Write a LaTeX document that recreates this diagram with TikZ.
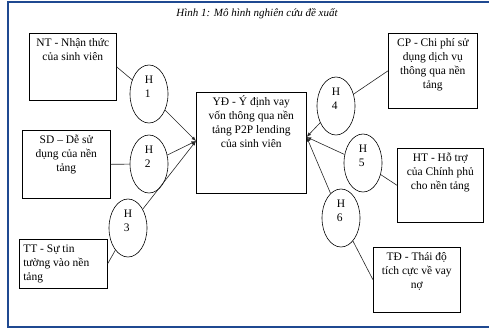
\documentclass[tikz,border=0pt]{standalone}
\usepackage{fontspec}
\setmainfont{Liberation Serif}
\usetikzlibrary{shapes.geometric}

\definecolor{frameblue}{RGB}{31,73,145}
\newcommand{\topbox}[3]{\parbox[c][#2][t]{#1}{\vspace*{3pt}\centering\strut #3}}

\begin{document}
\begin{tikzpicture}[x=1pt, y=-1pt, font=\fontsize{11.5}{14}\selectfont,
        box/.style={draw, line width=0.6pt, anchor=north west, inner xsep=4pt, inner ysep=0pt},
        hyp/.style={draw, ellipse, line width=0.6pt, minimum width=38pt, minimum height=58pt, inner sep=0pt, align=left, text depth=14pt},
        link/.style={draw=black!85, line width=0.6pt},
        arr/.style={-latex, draw=black!85, line width=0.6pt}]
            \useasboundingbox (0, 0) rectangle (489, 330);

            %frame and title
            \draw[frameblue, line width=2pt] (489, 2) -- (7.5, 2) -- (7.5, 327) -- (489, 327);
            \node[font=\fontsize{11}{13}\selectfont\itshape] (title) at (257, 14) {Hình 1: Mô hình nghiên cứu đề xuất};

            %factor boxes
            \node[box] (NT) at (29, 33) {\topbox{79pt}{67pt}{NT - Nhận thức\\của sinh viên}};
            \node[box] (SD) at (22, 130) {\topbox{80pt}{68pt}{SD – Dễ sử\\dụng của nền\\tảng}};
            \node[box] (TT) at (19, 239) {\topbox{80pt}{49pt}{\raggedright TT - Sự tin\\tường vào nền\\tảng}};
            \node[box] (YD) at (196, 92) {\topbox{102pt}{101pt}{YĐ - Ý định vay\\vốn thông qua nền\\tảng P2P lending\\của sinh viên}};
            \node[box] (CP) at (388, 33) {\topbox{81pt}{75pt}{CP - Chi phí sử\\dụng dịch vụ\\thông qua nền\\tảng}};
            \node[box] (HT) at (397, 148) {\topbox{78pt}{74pt}{HT - Hỗ trợ\\của Chính phủ\\cho nền tảng}};
            \node[box] (TD) at (373, 247) {\topbox{79pt}{65pt}{TĐ - Thái độ\\tích cực về vay\\nợ}};

            %hypotheses
            \node[hyp] (H1) at (149, 94) {H\\1};
            \node[hyp] (H2) at (149, 164) {H\\2};
            \node[hyp] (H3) at (128, 228) {H\\3};
            \node[hyp] (H4) at (336, 106) {H\\4};
            \node[hyp] (H5) at (363, 163) {H\\5};
            \node[hyp] (H6) at (341, 218) {H\\6};

            %junctions on the target box
            \coordinate (jl) at (YD.west |- 0, 141);
            \coordinate (jr) at (YD.east |- 0, 137);

            %edges
            \draw[link] (NT.east) -- (H1);
            \draw[link] (SD.east) -- (H2);
            \draw[link] (TT.east) -- (H3);
            \draw[link] (CP.west) -- (H4);
            \draw[link] (HT.west) -- (H5);
            \draw[link] (TD.west) -- (H6);
            \draw[arr] (H1) -- (jl);
            \draw[arr] (H2) -- (jl);
            \draw[arr] (H3) -- (jl);
            \draw[arr] (H4) -- (jr);
            \draw[arr] (H5) -- (jr);
            \draw[arr] (H6) -- (jr);
        \end{tikzpicture}
\end{document}
